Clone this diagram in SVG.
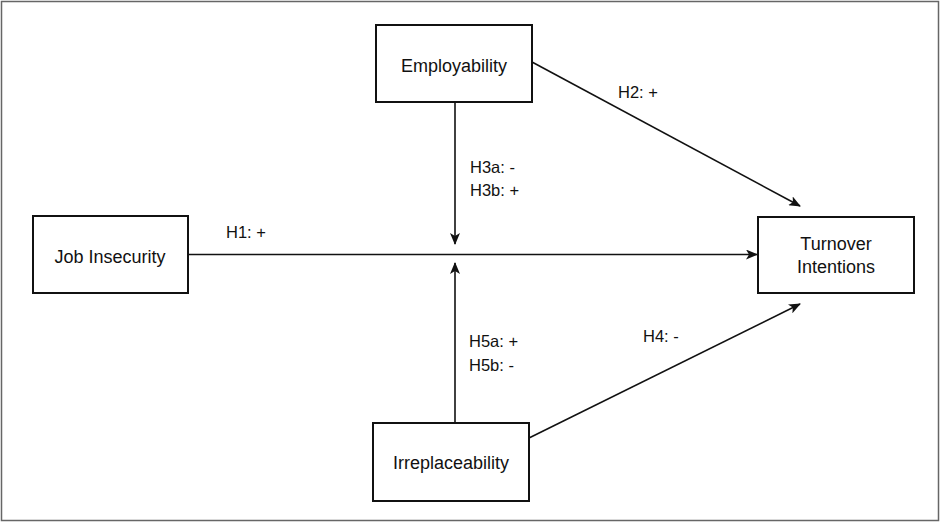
<svg xmlns="http://www.w3.org/2000/svg" width="940" height="522" viewBox="0 0 940 522">
<style>
.box{fill:#fff;stroke:#111;stroke-width:2}
.t{font-family:"Liberation Sans",Arial,sans-serif;font-size:18px;fill:#111}
.l{font-family:"Liberation Sans",Arial,sans-serif;font-size:16.5px;fill:#111}
.c{stroke:#111;stroke-width:1.6;fill:none}
</style>
<defs>
<marker id="ah" viewBox="0 0 12 10" refX="11" refY="5" markerWidth="12" markerHeight="10" markerUnits="userSpaceOnUse" orient="auto">
<path d="M0,0 L12,5 L0,10 L3,5 z" fill="#111"/>
</marker>
</defs>
<rect x="0" y="0" width="940" height="522" fill="#fff"/>
<rect x="1.5" y="1.5" width="937" height="519" fill="none" stroke="#666" stroke-width="1.5"/>
<g id="connectors">
<line class="c" x1="188" y1="254.5" x2="757" y2="254.5" marker-end="url(#ah)"/>
<line class="c" x1="455" y1="102" x2="455" y2="244" marker-end="url(#ah)"/>
<line class="c" x1="455" y1="423" x2="455" y2="263" marker-end="url(#ah)"/>
<line class="c" x1="532" y1="62" x2="800" y2="206" marker-end="url(#ah)"/>
<line class="c" x1="529" y1="438" x2="800" y2="304" marker-end="url(#ah)"/>
<text class="l" x="226" y="238">H1: +</text>
<text class="l" x="618" y="98">H2: +</text>
<text class="l" x="470" y="173">H3a: -</text>
<text class="l" x="470" y="196">H3b: +</text>
<text class="l" x="469" y="347">H5a: +</text>
<text class="l" x="469" y="371">H5b: -</text>
<text class="l" x="643" y="342">H4: -</text>
</g>
<g id="employability">
<rect class="box" x="376" y="25" width="156" height="77"/>
<text class="t" x="454" y="72" text-anchor="middle">Employability</text>
</g>
<g id="job-insecurity">
<rect class="box" x="33" y="216" width="155" height="77"/>
<text class="t" x="110" y="263" text-anchor="middle">Job Insecurity</text>
</g>
<g id="turnover-intentions">
<rect class="box" x="758" y="217" width="156" height="76"/>
<text class="t" x="836" y="250" text-anchor="middle">Turnover</text>
<text class="t" x="836" y="273" text-anchor="middle">Intentions</text>
</g>
<g id="irreplaceability">
<rect class="box" x="373" y="423" width="156" height="78"/>
<text class="t" x="451" y="469" text-anchor="middle">Irreplaceability</text>
</g>
</svg>
